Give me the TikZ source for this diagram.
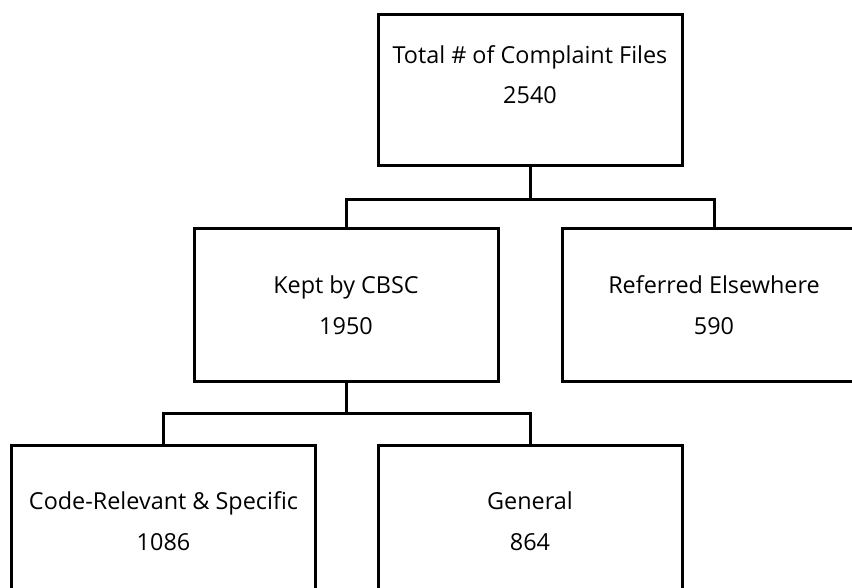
\documentclass[tikz,border=0pt]{standalone}
\usepackage{fontspec}
\setmainfont{Open Sans}
\usetikzlibrary{positioning}

\begin{document}
\begin{tikzpicture}[
  x=1pt, y=1pt,
  font=\fontsize{23.4}{40.5}\selectfont,
  box/.style={draw=black, line width=3pt, rectangle, align=center,
    minimum width=304pt, minimum height=152pt, inner sep=0pt},
  link/.style={line width=3pt},
]
\clip (0,0) rectangle (852,-588);

% --- Nodes ---
\node[box, minimum height=151pt, text depth=32pt] (total) at (530,-90.5) {Total \# of Complaint Files\\2540};
\node[box] (kept) at (346,-305) {Kept by CBSC\\1950};
\node[box] (referred) at (714,-305) {Referred Elsewhere\\590};
\node[box] (code) at (163.5,-521) {Code-Relevant \& Specific\\1086};
\node[box] (general) at (530,-521) {General\\864};

% --- Tree links ---
\draw[link] (total.south) -- ++(0,-32) -| (kept.north);
\draw[link] (total.south) -- ++(0,-32) -| (referred.north);
\draw[link] (kept.south) -- ++(0,-31) -| (code.north);
\draw[link] (kept.south) -- ++(0,-31) -| (general.north);

\end{tikzpicture}
\end{document}
